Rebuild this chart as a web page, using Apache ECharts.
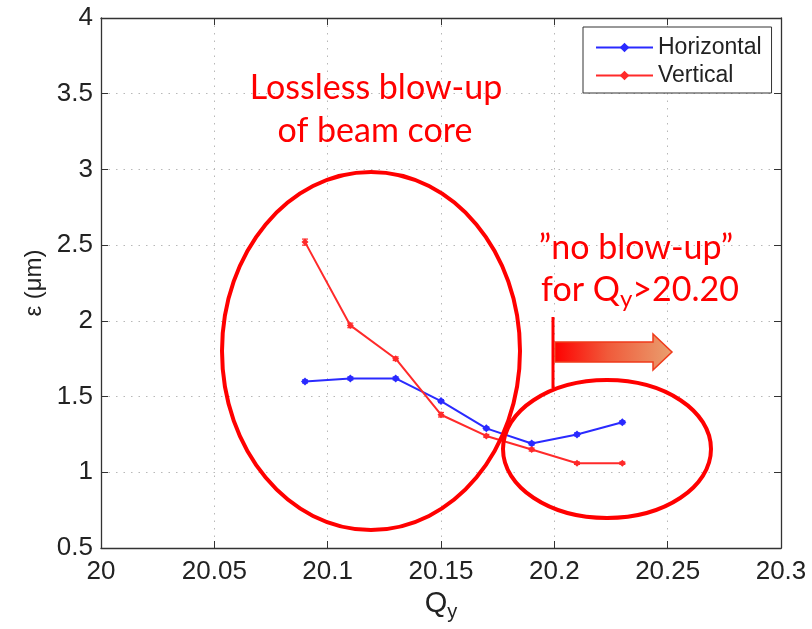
<!DOCTYPE html>
<html>
<head>
<meta charset="utf-8">
<script src="https://cdn.jsdelivr.net/npm/echarts@6/dist/echarts.min.js"></script>
<style>
  html, body { margin: 0; padding: 0; background: #fff; }
  #chart { width: 812px; height: 629px; }
</style>
</head>
<body>
<div id="chart"></div>
<script>
// Tune values Q_y and measured emittances (µm) with their error bars
const qy = [20.09, 20.11, 20.13, 20.15, 20.17, 20.19, 20.21, 20.23];
const horizontal = [1.60, 1.62, 1.62, 1.47, 1.29, 1.19, 1.25, 1.33];
const vertical = [2.52, 1.97, 1.75, 1.38, 1.24, 1.15, 1.06, 1.06];
const horizontalErr = [0.01, 0.01, 0.01, 0.01, 0.01, 0.01, 0.01, 0.01];
const verticalErr = [0.02, 0.015, 0.012, 0.015, 0.01, 0.01, 0.008, 0.008];
const seriesNames = ['Horizontal', 'Vertical'];
const xTicks = { min: 20, max: 20.3, step: 0.05 };
const yTicks = { min: 0.5, max: 4, step: 0.5 };

const BLUE = '#2a2aff';
const RED = '#ff2a2a';
const ANNOT = '#ff0000';
const tickFont = 'Liberation Sans, Arial, Helvetica, sans-serif';
const noteFont = 'Lato, "Open Sans", sans-serif';

const chart = echarts.init(document.getElementById('chart'), null, { renderer: 'canvas' });

function pairs(xs, ys) { return xs.map((x, i) => [x, ys[i]]); }
function errRows(xs, ys, es) { return xs.map((x, i) => [x, ys[i] - es[i], ys[i] + es[i]]); }

function errorBars(color) {
  return function (params, api) {
    const lo = api.coord([api.value(0), api.value(1)]);
    const hi = api.coord([api.value(0), api.value(2)]);
    const cap = 3;
    const style = { stroke: color, lineWidth: 1.2 };
    return {
      type: 'group',
      children: [
        { type: 'line', shape: { x1: lo[0], y1: lo[1], x2: hi[0], y2: hi[1] }, style },
        { type: 'line', shape: { x1: lo[0] - cap, y1: lo[1], x2: lo[0] + cap, y2: lo[1] }, style },
        { type: 'line', shape: { x1: hi[0] - cap, y1: hi[1], x2: hi[0] + cap, y2: hi[1] }, style }
      ]
    };
  };
}

const axisLineStyle = { color: '#333', width: 1.3 };
const gridDots = { color: '#b8b8b8', type: [1.5, 6], width: 1 };

const option = {
  animation: false,
  backgroundColor: '#fff',
  grid: { left: 101, right: 31, top: 18, bottom: 81, containLabel: false },
  legend: {
    data: seriesNames,
    orient: 'vertical',
    left: 583,
    top: 27,
    padding: [9, 10, 6, 12],
    itemGap: 5,
    itemWidth: 57,
    itemHeight: 12,
    borderColor: '#333',
    borderWidth: 1,
    backgroundColor: '#fff',
    textStyle: { fontFamily: tickFont, fontSize: 23, color: '#222', padding: [0, 0, 0, 0] }
  },
  xAxis: [
    {
      type: 'value', min: xTicks.min, max: xTicks.max, interval: xTicks.step,
      name: '{q|Q}{s|y}', nameLocation: 'middle', nameGap: 21,
      nameTextStyle: {
        rich: {
          q: { fontFamily: tickFont, fontSize: 29, color: '#222' },
          s: { fontFamily: tickFont, fontSize: 20, color: '#222', padding: [16, 0, 0, 0] }
        }
      },
      axisLine: { show: true, onZero: false, lineStyle: axisLineStyle },
      axisTick: { show: true, inside: true, length: 7, lineStyle: { color: '#333' } },
      axisLabel: {
        margin: 11, fontFamily: tickFont, fontSize: 26, color: '#222',
        formatter: v => String(+v.toFixed(2))
      },
      splitLine: { show: true, lineStyle: gridDots }
    },
    {
      type: 'value', position: 'top', min: xTicks.min, max: xTicks.max, interval: xTicks.step,
      axisLine: { show: true, onZero: false, lineStyle: axisLineStyle },
      axisTick: { show: true, inside: true, length: 7, lineStyle: { color: '#333' } },
      axisLabel: { show: false },
      splitLine: { show: false }
    }
  ],
  yAxis: [
    {
      type: 'value', min: yTicks.min, max: yTicks.max, interval: yTicks.step,
      name: 'ε (μm)', nameLocation: 'middle', nameRotate: 90, nameGap: 46,
      nameTextStyle: { fontFamily: tickFont, fontSize: 24, color: '#222' },
      axisLine: { show: true, onZero: false, lineStyle: axisLineStyle },
      axisTick: { show: true, inside: true, length: 7, lineStyle: { color: '#333' } },
      axisLabel: { margin: 8, fontFamily: tickFont, fontSize: 26, color: '#222' },
      splitLine: { show: true, lineStyle: gridDots }
    },
    {
      type: 'value', position: 'right', min: yTicks.min, max: yTicks.max, interval: yTicks.step,
      axisLine: { show: true, onZero: false, lineStyle: axisLineStyle },
      axisTick: { show: true, inside: true, length: 7, lineStyle: { color: '#333' } },
      axisLabel: { show: false },
      splitLine: { show: false }
    }
  ],
  series: [
    {
      name: seriesNames[0], type: 'line', data: pairs(qy, horizontal),
      color: BLUE, symbol: 'diamond', symbolSize: 8,
      lineStyle: { width: 2, color: BLUE }, itemStyle: { color: BLUE }, z: 3
    },
    {
      name: seriesNames[1], type: 'line', data: pairs(qy, vertical),
      color: RED, symbol: 'diamond', symbolSize: 7,
      lineStyle: { width: 2, color: RED }, itemStyle: { color: RED }, z: 3
    },
    {
      name: 'hErr', type: 'custom', data: errRows(qy, horizontal, horizontalErr),
      renderItem: errorBars(BLUE), encode: { x: 0, y: [1, 2] }, z: 4, silent: true
    },
    {
      name: 'vErr', type: 'custom', data: errRows(qy, vertical, verticalErr),
      renderItem: errorBars(RED), encode: { x: 0, y: [1, 2] }, z: 4, silent: true
    }
  ],
  graphic: [
    // region outlines
    { type: 'ellipse', shape: { cx: 371, cy: 351, rx: 149, ry: 179 },
      style: { fill: null, stroke: ANNOT, lineWidth: 4 }, z: 100 },
    { type: 'ellipse', shape: { cx: 607, cy: 449, rx: 104, ry: 69 },
      style: { fill: null, stroke: ANNOT, lineWidth: 4 }, z: 100 },
    // annotation texts
    { type: 'text', x: 376, y: 88, z: 100,
      style: { text: 'Lossless blow-up', font: '34px ' + noteFont, fill: ANNOT, align: 'center', verticalAlign: 'middle' } },
    { type: 'text', x: 375, y: 131, z: 100,
      style: { text: 'of beam core', font: '34px ' + noteFont, fill: ANNOT, align: 'center', verticalAlign: 'middle' } },
    { type: 'text', x: 636, y: 248, z: 100,
      style: { text: '\u201Dno blow-up\u201D', font: '34px ' + noteFont, fill: ANNOT, align: 'center', verticalAlign: 'middle' } },
    { type: 'text', x: 640, y: 290, z: 100,
      style: {
        text: '{a|for Q}{b|y}{a|>20.20}', align: 'center', verticalAlign: 'middle',
        rich: {
          a: { font: '34px ' + noteFont, fill: ANNOT },
          b: { font: '24px ' + noteFont, fill: ANNOT, padding: [19, 0, 0, 0] }
        }
      } },
    // threshold marker and arrow
    { type: 'line', shape: { x1: 553, y1: 317, x2: 553, y2: 388 }, z: 100,
      style: { stroke: ANNOT, lineWidth: 3 } },
    { type: 'polygon', z: 100,
      shape: { points: [[555, 342], [653, 342], [653, 334], [672, 352], [653, 370], [653, 362], [555, 362]] },
      style: {
        fill: new echarts.graphic.LinearGradient(0, 0, 1, 0, [
          { offset: 0, color: '#ff0000' },
          { offset: 0.45, color: '#f05a3a' },
          { offset: 1, color: '#e9a070' }
        ]),
        stroke: '#f03a1a', lineWidth: 1.5
      } }
  ]
};

chart.setOption(option);
</script>
</body>
</html>
